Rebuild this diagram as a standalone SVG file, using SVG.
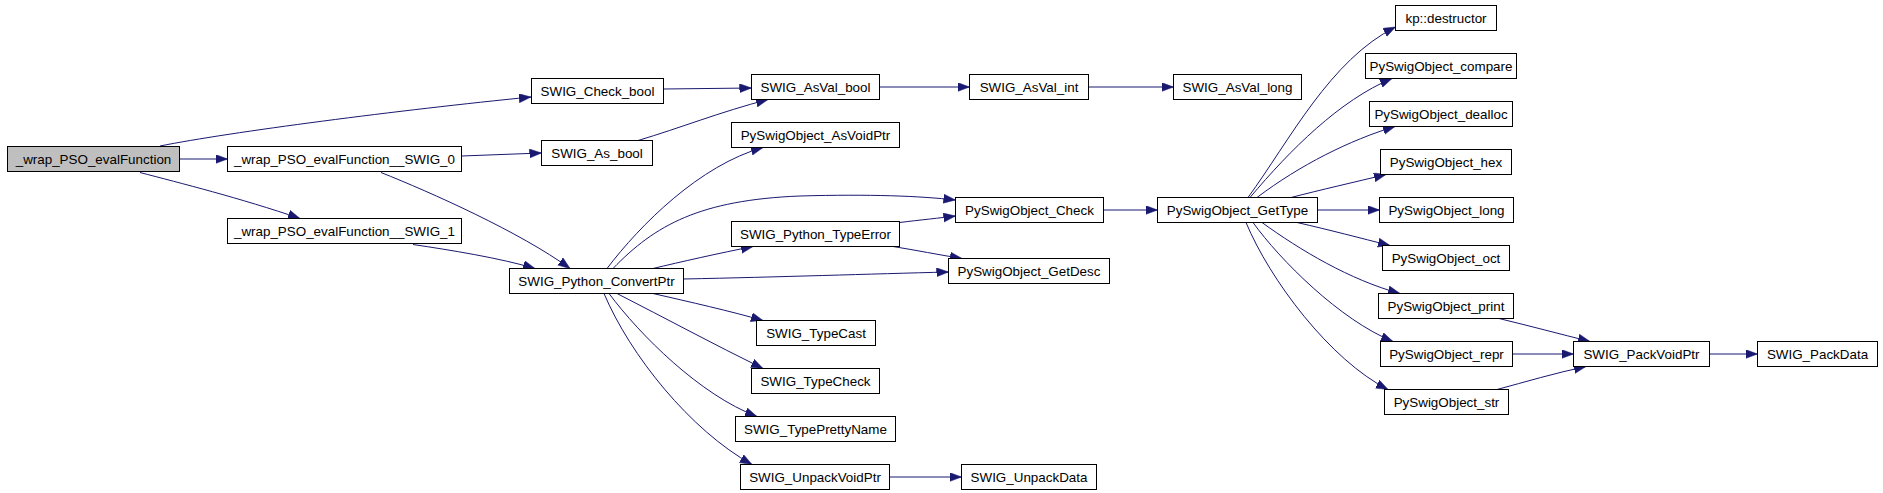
<svg xmlns="http://www.w3.org/2000/svg" width="1883" height="493" viewBox="0 0 1883 493">
<style>
.n rect{fill:#ffffff;stroke:#000000;stroke-width:1}
.n.root rect{fill:#bfbfbf}
.n text{font-family:"Liberation Sans",Arial,sans-serif;font-size:13.4px;fill:#000000;text-anchor:middle}
#edges path{fill:none;stroke:#191970;stroke-width:1;marker-end:url(#ah)}
</style>
<defs>
<marker id="ah" markerUnits="userSpaceOnUse" markerWidth="13" markerHeight="10" refX="12" refY="4.5" orient="auto">
<path d="M0,0 L12,4.5 L0,9 z" fill="#191970" stroke="#191970" stroke-width="0.5"/>
</marker>
</defs>
<rect width="1883" height="493" fill="#ffffff"/>
<g id="edges">
<path d="M160,146 C230,132 400,110 531,97"/>
<path d="M179.5,159 L227.5,159"/>
<path d="M140,172.5 C180,183 240,198 300,218.5"/>
<path d="M461.5,156 L541.5,153"/>
<path d="M381,172.5 C430,192 520,232 570,268.5"/>
<path d="M413,244.5 C450,250 500,258 535,268.5"/>
<path d="M663.5,89 L751.5,88"/>
<path d="M638,140.5 C680,128 720,112 768,99.5"/>
<path d="M879.5,87 L969.5,87"/>
<path d="M1088.5,87 L1173.5,87"/>
<path d="M607,268.5 C640,225 700,165 763,147.5"/>
<path d="M613,268.5 C655,225 700,200 800,196 C870,194 920,196 955.5,200"/>
<path d="M653,268.5 C680,262 720,253 753,246.5"/>
<path d="M683.5,279 C780,277 870,274 948.5,272"/>
<path d="M653,293.5 C690,302 730,311 763,320.5"/>
<path d="M617,293.5 C665,318 715,345 763,368.5"/>
<path d="M609,293.5 C640,335 700,395 757,416.5"/>
<path d="M604,293.5 C630,355 690,430 752,464.5"/>
<path d="M899.5,222.5 C920,220 940,218 955.5,216"/>
<path d="M893,246.5 C915,250 940,255 962,258.5"/>
<path d="M889.5,477 L961.5,477"/>
<path d="M1103.5,210 L1157.5,210"/>
<path d="M1248,197.5 C1290,140 1330,60 1395.5,27"/>
<path d="M1250,197.5 C1290,150 1340,100 1392,78.5"/>
<path d="M1257,197.5 C1300,165 1350,140 1395,126.5"/>
<path d="M1291,197.5 C1320,190 1355,182 1386,174.5"/>
<path d="M1317.5,210 L1379.5,210"/>
<path d="M1297,222.5 C1330,230 1360,238 1390,245.5"/>
<path d="M1262,222.5 C1300,250 1350,280 1400,293.5"/>
<path d="M1253,222.5 C1280,260 1340,320 1393,341.5"/>
<path d="M1246,222.5 C1270,280 1330,360 1388,389.5"/>
<path d="M1499,318.5 C1530,326 1560,334 1590,341.5"/>
<path d="M1512.5,354 L1573.5,354"/>
<path d="M1497,389.5 C1525,382 1555,373 1586,366.5"/>
<path d="M1709.5,354 L1757.5,354"/>
</g>
<g id="n_wrap_PSO_evalFunction" class="n root"><rect x="7.5" y="146.5" width="172" height="25"/><text x="93.5" y="163.5">_wrap_PSO_evalFunction</text></g>
<g id="n_wrap_SWIG_0" class="n"><rect x="227.5" y="146.5" width="234" height="25"/><text x="344.5" y="163.5">_wrap_PSO_evalFunction__SWIG_0</text></g>
<g id="n_wrap_SWIG_1" class="n"><rect x="227.5" y="218.5" width="234" height="25"/><text x="344.5" y="235.5">_wrap_PSO_evalFunction__SWIG_1</text></g>
<g id="n_SWIG_Check_bool" class="n"><rect x="531.5" y="78.5" width="132" height="25"/><text x="597.5" y="95.5">SWIG_Check_bool</text></g>
<g id="n_SWIG_As_bool" class="n"><rect x="541.5" y="140.5" width="111" height="25"/><text x="597" y="157.5">SWIG_As_bool</text></g>
<g id="n_SWIG_Python_ConvertPtr" class="n"><rect x="509.5" y="268.5" width="174" height="25"/><text x="596.5" y="285.5">SWIG_Python_ConvertPtr</text></g>
<g id="n_SWIG_AsVal_bool" class="n"><rect x="751.5" y="74.5" width="128" height="25"/><text x="815.5" y="91.5">SWIG_AsVal_bool</text></g>
<g id="n_PySwigObject_AsVoidPtr" class="n"><rect x="731.5" y="122.5" width="168" height="25"/><text x="815.5" y="139.5">PySwigObject_AsVoidPtr</text></g>
<g id="n_SWIG_Python_TypeError" class="n"><rect x="731.5" y="221.5" width="168" height="25"/><text x="815.5" y="238.5">SWIG_Python_TypeError</text></g>
<g id="n_SWIG_TypeCast" class="n"><rect x="756.5" y="320.5" width="119" height="25"/><text x="816" y="337.5">SWIG_TypeCast</text></g>
<g id="n_SWIG_TypeCheck" class="n"><rect x="751.5" y="368.5" width="128" height="25"/><text x="815.5" y="385.5">SWIG_TypeCheck</text></g>
<g id="n_SWIG_TypePrettyName" class="n"><rect x="735.5" y="416.5" width="160" height="25"/><text x="815.5" y="433.5">SWIG_TypePrettyName</text></g>
<g id="n_SWIG_UnpackVoidPtr" class="n"><rect x="740.5" y="464.5" width="149" height="25"/><text x="815" y="481.5">SWIG_UnpackVoidPtr</text></g>
<g id="n_SWIG_AsVal_int" class="n"><rect x="969.5" y="74.5" width="119" height="25"/><text x="1029" y="91.5">SWIG_AsVal_int</text></g>
<g id="n_PySwigObject_Check" class="n"><rect x="955.5" y="197.5" width="148" height="25"/><text x="1029.5" y="214.5">PySwigObject_Check</text></g>
<g id="n_PySwigObject_GetDesc" class="n"><rect x="948.5" y="258.5" width="161" height="25"/><text x="1029" y="275.5">PySwigObject_GetDesc</text></g>
<g id="n_SWIG_UnpackData" class="n"><rect x="961.5" y="464.5" width="135" height="25"/><text x="1029" y="481.5">SWIG_UnpackData</text></g>
<g id="n_SWIG_AsVal_long" class="n"><rect x="1173.5" y="74.5" width="128" height="25"/><text x="1237.5" y="91.5">SWIG_AsVal_long</text></g>
<g id="n_PySwigObject_GetType" class="n"><rect x="1157.5" y="197.5" width="160" height="25"/><text x="1237.5" y="214.5">PySwigObject_GetType</text></g>
<g id="n_kp_destructor" class="n"><rect x="1395.5" y="5.5" width="101" height="25"/><text x="1446" y="22.5">kp::destructor</text></g>
<g id="n_PySwigObject_compare" class="n"><rect x="1365.5" y="53.5" width="151" height="25"/><text x="1441" y="70.5">PySwigObject_compare</text></g>
<g id="n_PySwigObject_dealloc" class="n"><rect x="1369.5" y="101.5" width="143" height="25"/><text x="1441" y="118.5">PySwigObject_dealloc</text></g>
<g id="n_PySwigObject_hex" class="n"><rect x="1380.5" y="149.5" width="131" height="25"/><text x="1446" y="166.5">PySwigObject_hex</text></g>
<g id="n_PySwigObject_long" class="n"><rect x="1379.5" y="197.5" width="134" height="25"/><text x="1446.5" y="214.5">PySwigObject_long</text></g>
<g id="n_PySwigObject_oct" class="n"><rect x="1382.5" y="245.5" width="127" height="25"/><text x="1446" y="262.5">PySwigObject_oct</text></g>
<g id="n_PySwigObject_print" class="n"><rect x="1378.5" y="293.5" width="135" height="25"/><text x="1446" y="310.5">PySwigObject_print</text></g>
<g id="n_PySwigObject_repr" class="n"><rect x="1380.5" y="341.5" width="132" height="25"/><text x="1446.5" y="358.5">PySwigObject_repr</text></g>
<g id="n_PySwigObject_str" class="n"><rect x="1384.5" y="389.5" width="124" height="25"/><text x="1446.5" y="406.5">PySwigObject_str</text></g>
<g id="n_SWIG_PackVoidPtr" class="n"><rect x="1573.5" y="341.5" width="136" height="25"/><text x="1641.5" y="358.5">SWIG_PackVoidPtr</text></g>
<g id="n_SWIG_PackData" class="n"><rect x="1757.5" y="341.5" width="120" height="25"/><text x="1817.5" y="358.5">SWIG_PackData</text></g>
</svg>
